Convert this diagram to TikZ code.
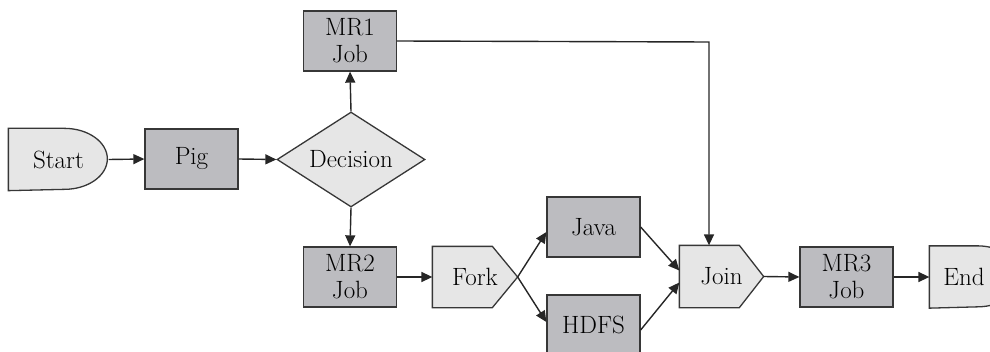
\documentclass[tikz,border=0pt]{standalone}
\usetikzlibrary{arrows.meta,shapes.geometric,backgrounds}
\definecolor{boxgray}{RGB}{188,188,192}
\definecolor{termgray}{RGB}{230,230,230}
\definecolor{edgegray}{RGB}{55,55,55}

\begin{document}
\begin{tikzpicture}[x=1pt,y=1pt]
\tikzstyle{every node}=[font=\fontsize{25}{27}\selectfont, draw=edgegray, line width=1.3pt, inner sep=1pt, align=center]
\tikzstyle{job}=[rectangle, fill=boxgray, minimum width=93pt, minimum height=60pt]
\tikzstyle{term}=[rectangle, draw=none, minimum width=99pt, minimum height=61pt]
\tikzstyle{gate}=[rectangle, draw=none, minimum width=84pt, minimum height=60pt]
\tikzstyle{outline}=[draw=edgegray, fill=termgray, line width=1.3pt]
\tikzstyle{flow}=[line width=1.4pt, black!85, -{Triangle[length=11pt,width=10pt]}]
\useasboundingbox (0,0) rectangle (990,351);
% shapes
\node[term] (start) at (58.5,191.5) {Start};
\node[job] (pig) at (191.5,192) {Pig};
\node[diamond, aspect=1.6, fill=termgray, minimum width=148pt, minimum height=95pt] (decision) at (351,191.5) {Decision};
\node[job] (mr1) at (350,310) {MR1\\Job};
\node[job] (mr2) at (350,74) {MR2\\Job};
\node[gate] (fork) at (475,74) {Fork};
\node[job] (java) at (593.5,124) {Java};
\node[job] (hdfs) at (593.5,26) {HDFS};
\node[gate, minimum width=83pt, minimum height=61pt] (join) at (721.5,74.5) {Join};
\node[job] (mr3) at (846.5,74) {MR3\\Job};
\node[term, minimum width=68pt] (end) at (964,74) {End};
\begin{scope}[on background layer]
\draw[outline] (start.north west) -- ++(56,0) arc[start angle=90, end angle=-90, x radius=43, y radius=30.5] -- (start.south west) -- cycle;
\draw[outline] (end.north west) -- ++(48,0) arc[start angle=90, end angle=-90, x radius=43, y radius=30.5] -- (end.south west) -- cycle;
\draw[outline] (fork.north west) -- ++(60,0) -- (fork.east) -- ([xshift=60pt]fork.south west) -- (fork.south west) -- cycle;
\draw[outline] (join.north west) -- ++(60,0) -- (join.east) -- ([xshift=60pt]join.south west) -- (join.south west) -- cycle;
\end{scope}
% connectors
\coordinate (turn) at (709,309);
\draw[flow] (start.east) -- (pig.west);
\draw[flow] (pig.east) -- (decision.west);
\draw[flow] (decision.north) -- (mr1.south);
\draw[flow] (decision.south) -- (mr2.north);
\draw[flow] (mr1.east) -- (turn) -- (turn |- join.north);
\draw[flow] (mr2.east) -- (fork.west);
\draw[flow] (fork.east) -- ([yshift=-5pt]java.west);
\draw[flow] (fork.east) -- ([yshift=3pt]hdfs.west);
\draw[flow] (java.east) -- ([yshift=6pt]join.west);
\draw[flow] ([yshift=-5pt]hdfs.east) -- ([yshift=-6pt]join.west);
\draw[flow] (join.east) -- (mr3.west);
\draw[flow] (mr3.east) -- (end.west);
\end{tikzpicture}
\end{document}
